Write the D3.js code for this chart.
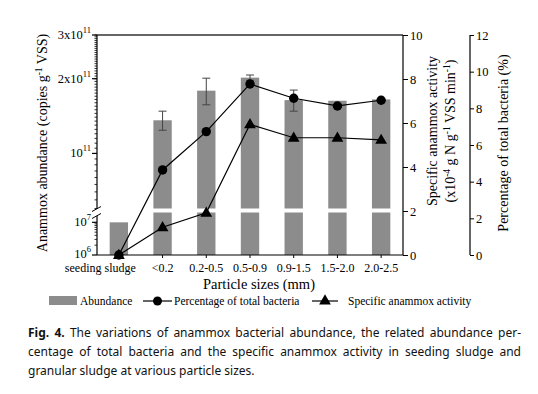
<!DOCTYPE html>
<html>
<head>
<meta charset="utf-8">
<script src="https://cdn.jsdelivr.net/npm/d3@7"></script>
<style>
  body { margin: 0; background: #fff; }
  svg { display: block; }
</style>
</head>
<body>
<div id="chart"></div>
<script>
// Datos
const categories = ["seeding sludge", "<0.2", "0.2-0.5", "0.5-0.9", "0.9-1.5", "1.5-2.0", "2.0-2.5"];
const abundance = [1e7, 1.36e11, 1.79e11, 2.02e11, 1.64e11, 1.63e11, 1.65e11];
const abundanceErr = [0, 0.12e11, 0.22e11, 0.05e11, 0.16e11, 0, 0];
const percentage = [0, 4.64, 6.73, 9.33, 8.55, 8.13, 8.44];
const activity = [0, 1.26, 1.92, 5.94, 5.33, 5.33, 5.23];

const activityTicks = [0, 2, 4, 6, 8, 10];
const percentTicks = [0, 2, 4, 6, 8, 10, 12];

const W = 538, H = 394;
const pLeft = 97, pRight = 403, pTop = 35, pBottom = 255;
const breakHi = 208.5, breakLo = 212.5;   // hueco del eje roto
const serif = "'Liberation Serif', 'Times New Roman', serif";
const barColor = "#8c8c8c";

const svg = d3.select("#chart").append("svg")
    .attr("width", W).attr("height", H)
    .style("font-family", serif);

const x = d3.scaleBand().domain(categories).range([pLeft, pRight]).padding(0);
const cx = d => x(d) + x.bandwidth() / 2;
const barW = x.bandwidth() * 0.42;

// eje izquierdo en dos tramos logarítmicos
const yTop = d3.scaleLog().domain([6e10, 3e11]).range([breakHi, pTop]);
const yBot = d3.scaleLog().domain([1e6, 2e7]).range([pBottom, breakLo]);
const yAct = d3.scaleLinear().domain([0, 10]).range([pBottom, pTop]);
const yPct = d3.scaleLinear().domain([0, 12]).range([pBottom, pTop]);

// --- BARRAS ---
const bars = svg.append("g");
categories.forEach((c, i) => {
    const v = abundance[i];
    const lowTop = yBot(Math.min(v, yBot.domain()[1]));
    bars.append("rect")
        .attr("x", cx(c) - barW / 2).attr("width", barW)
        .attr("y", lowTop).attr("height", pBottom - lowTop)
        .attr("fill", barColor);
    if (v > yTop.domain()[0]) {
        bars.append("rect")
            .attr("x", cx(c) - barW / 2).attr("width", barW)
            .attr("y", yTop(v)).attr("height", breakHi - yTop(v))
            .attr("fill", barColor);
    }
    if (abundanceErr[i] > 0) {
        const e1 = yTop(v + abundanceErr[i]), e0 = yTop(v - abundanceErr[i]);
        const g = bars.append("g").attr("stroke", "#444").attr("stroke-width", 1);
        g.append("line").attr("x1", cx(c)).attr("x2", cx(c)).attr("y1", e1).attr("y2", e0);
        g.append("line").attr("x1", cx(c) - 4).attr("x2", cx(c) + 4).attr("y1", e1).attr("y2", e1);
        g.append("line").attr("x1", cx(c) - 4).attr("x2", cx(c) + 4).attr("y1", e0).attr("y2", e0);
    }
});

// --- MARCO ---
svg.append("line").attr("x1", pLeft).attr("x2", pRight).attr("y1", pTop).attr("y2", pTop)
    .attr("stroke", "#333").attr("stroke-width", 1.6);
svg.append("line").attr("x1", pLeft).attr("x2", pRight).attr("y1", pBottom).attr("y2", pBottom)
    .attr("stroke", "#000").attr("stroke-width", 1.2);

// eje X (la primera etiqueta va desplazada a la izquierda, como en el original)
const xAxis = svg.append("g");
categories.forEach((c, i) => {
    xAxis.append("line").attr("x1", cx(c)).attr("x2", cx(c)).attr("y1", pBottom).attr("y2", pBottom + 3)
        .attr("stroke", "#000");
    xAxis.append("text").attr("x", i === 0 ? cx(c) + 17 : cx(c)).attr("y", pBottom + 17)
        .attr("text-anchor", i === 0 ? "end" : "middle").style("font-size", "12px").text(c);
});
svg.append("text").attr("x", 259).attr("y", pBottom + 34)
    .attr("text-anchor", "middle").style("font-size", "14.5px").text("Particle sizes (mm)");

// eje izquierdo
const la = svg.append("g").attr("stroke", "#000");
la.append("line").attr("x1", pLeft).attr("x2", pLeft).attr("y1", pTop).attr("y2", breakHi + 1).attr("stroke-width", 1.2);
la.append("line").attr("x1", pLeft).attr("x2", pLeft).attr("y1", breakLo - 1).attr("y2", pBottom).attr("stroke-width", 1.2);
const minorTop = d3.range(6e10, 3e11 + 1, 5e9);
minorTop.forEach(v => la.append("line").attr("x1", pLeft - 2.5).attr("x2", pLeft)
    .attr("y1", yTop(v)).attr("y2", yTop(v)).attr("stroke-width", 0.8));
const minorBot = d3.range(2e6, 1e7, 1e6).concat([2e7]);
minorBot.forEach(v => la.append("line").attr("x1", pLeft - 2.5).attr("x2", pLeft)
    .attr("y1", yBot(v)).attr("y2", yBot(v)).attr("stroke-width", 0.8));

const leftLabels = [
    {scale: yTop, v: 3e11, base: "3x10", exp: "11", dy: 4},
    {scale: yTop, v: 2e11, base: "2x10", exp: "11", dy: 4},
    {scale: yTop, v: 1e11, base: "10", exp: "11", dy: 4},
    {scale: yBot, v: 1e7, base: "10", exp: "7", dy: 4},
    {scale: yBot, v: 1e6, base: "10", exp: "6", dy: 2.5}
];
leftLabels.forEach(d => {
    const y = d.scale(d.v);
    la.append("line").attr("x1", pLeft - 5).attr("x2", pLeft).attr("y1", y).attr("y2", y).attr("stroke-width", 1.2);
    const t = svg.append("text").attr("x", pLeft - 6).attr("y", y + d.dy)
        .attr("text-anchor", "end").style("font-size", "12.5px");
    t.append("tspan").text(d.base);
    t.append("tspan").attr("dy", -6).style("font-size", "8.5px").text(d.exp);
});

// marcas de rotura
const brk = svg.append("g");
brk.append("polygon")
    .attr("points", `${pLeft - 5},${breakHi + 3} ${pLeft + 4},${breakHi - 2} ${pLeft + 4},${breakLo + 1} ${pLeft - 5},${breakLo + 6}`)
    .attr("fill", "#fff");
[breakHi + 3, breakLo + 6].forEach(y0 => brk.append("line")
    .attr("x1", pLeft - 5).attr("y1", y0).attr("x2", pLeft + 4).attr("y2", y0 - 5)
    .attr("stroke", "#000").attr("stroke-width", 1));

svg.append("text")
    .attr("transform", `translate(47,${(pTop + pBottom) / 2 - 2}) rotate(-90)`)
    .attr("text-anchor", "middle").style("font-size", "14px")
    .call(t => {
        t.append("tspan").text("Anammox abundance (copies g");
        t.append("tspan").attr("dy", -5).style("font-size", "9.5px").text("-1");
        t.append("tspan").attr("dy", 5).text(" VSS)");
    });

// eje derecho: actividad
const actAxis = svg.append("g").attr("transform", `translate(${pRight},0)`)
    .call(d3.axisRight(yAct).tickValues(activityTicks).tickSize(5).tickPadding(2).tickFormat(d3.format("d")));
actAxis.attr("font-family", serif);
actAxis.select(".domain").attr("d", `M0,${pTop}V${pBottom}`).attr("stroke-width", 1.2);
actAxis.selectAll("text").style("font-family", serif).style("font-size", "12.5px").attr("fill", "#000");

const actTitle = svg.append("text")
    .attr("transform", `translate(437,${(pTop + pBottom) / 2 - 14}) rotate(-90)`)
    .attr("text-anchor", "middle").style("font-size", "14px");
actTitle.append("tspan").attr("x", 0).attr("dy", 0).text("Specific anammox activity");
const l2 = actTitle.append("tspan").attr("x", 0).attr("dy", 18);
l2.append("tspan").text("(x10");
l2.append("tspan").attr("dy", -5).style("font-size", "9.5px").text("-4");
l2.append("tspan").attr("dy", 5).text(" g N g");
l2.append("tspan").attr("dy", -5).style("font-size", "9.5px").text("-1");
l2.append("tspan").attr("dy", 5).text(" VSS min");
l2.append("tspan").attr("dy", -5).style("font-size", "9.5px").text("-1");
l2.append("tspan").attr("dy", 5).text(")");

// tercer eje: porcentaje
const pctX = 470;
const pctAxis = svg.append("g").attr("transform", `translate(${pctX},0)`)
    .call(d3.axisRight(yPct).tickValues(percentTicks).tickSize(4).tickPadding(2).tickFormat(d3.format("d")));
pctAxis.attr("font-family", serif);
pctAxis.select(".domain").attr("d", `M0,${pTop}V${pBottom}`).attr("stroke-width", 1.2);
pctAxis.selectAll("text").style("font-family", serif).style("font-size", "12.5px").attr("fill", "#000");

svg.append("text")
    .attr("transform", `translate(508,${(pTop + pBottom) / 2 - 2}) rotate(-90)`)
    .attr("text-anchor", "middle").style("font-size", "14px")
    .text("Percentage of total bacteria (%)");

// --- LÍNEAS ---
const pctLine = d3.line().x((d, i) => cx(categories[i])).y(d => yPct(d));
const actLine = d3.line().x((d, i) => cx(categories[i])).y(d => yAct(d));

svg.append("path").datum(percentage).attr("d", pctLine)
    .attr("fill", "none").attr("stroke", "#000").attr("stroke-width", 1.2);
svg.append("path").datum(activity).attr("d", actLine)
    .attr("fill", "none").attr("stroke", "#000").attr("stroke-width", 1.2);

const tri = d3.symbol().type(d3.symbolTriangle).size(60);
svg.append("g").selectAll("circle").data(percentage).join("circle")
    .attr("cx", (d, i) => cx(categories[i])).attr("cy", d => yPct(d))
    .attr("r", 4.7).attr("fill", "#000");
svg.append("g").selectAll("path").data(activity).join("path")
    .attr("transform", (d, i) => `translate(${cx(categories[i])},${yAct(d) + 0.5})`)
    .attr("d", tri).attr("fill", "#000");

// --- LEYENDA ---
const ly = 301;
const leg = svg.append("g").style("font-size", "11.5px");
leg.append("rect").attr("x", 49).attr("y", ly - 5).attr("width", 28).attr("height", 9).attr("fill", barColor);
leg.append("text").attr("x", 80).attr("y", ly + 3.5).text("Abundance");
leg.append("line").attr("x1", 143).attr("x2", 172).attr("y1", ly).attr("y2", ly).attr("stroke", "#000").attr("stroke-width", 1.2);
leg.append("circle").attr("cx", 157.5).attr("cy", ly).attr("r", 4.5).attr("fill", "#000");
leg.append("text").attr("x", 174).attr("y", ly + 3.5).text("Percentage of total bacteria");
leg.append("line").attr("x1", 312).attr("x2", 338).attr("y1", ly).attr("y2", ly).attr("stroke", "#000").attr("stroke-width", 1.2);
leg.append("path").attr("transform", `translate(325,${ly})`).attr("d", tri).attr("fill", "#000");
leg.append("text").attr("x", 348).attr("y", ly + 3.5).text("Specific anammox activity");

// --- PIE DE FIGURA ---
const capLines = [
    {y: 337, bold: "Fig. 4.", text: " The variations of anammox bacterial abundance, the related abundance per-", justify: true},
    {y: 356, bold: "", text: "centage of total bacteria and the specific anammox activity in seeding sludge and", justify: true},
    {y: 375, bold: "", text: "granular sludge at various particle sizes.", justify: false}
];
const capX = 28, capR = 521;
capLines.forEach(l => {
    const t = svg.append("text").attr("x", capX).attr("y", l.y)
        .style("font-family", "'Noto Sans', 'Open Sans', sans-serif").style("font-size", "12px").attr("fill", "#111");
    if (l.bold) t.append("tspan").style("font-weight", "bold").text(l.bold);
    t.append("tspan").text(l.text);
    if (l.justify) {
        const w = t.node().getComputedTextLength();
        const spaces = (l.bold + l.text).split(" ").length - 1;
        t.style("word-spacing", ((capR - capX - w) / spaces) + "px");
    }
});
</script>
</body>
</html>
